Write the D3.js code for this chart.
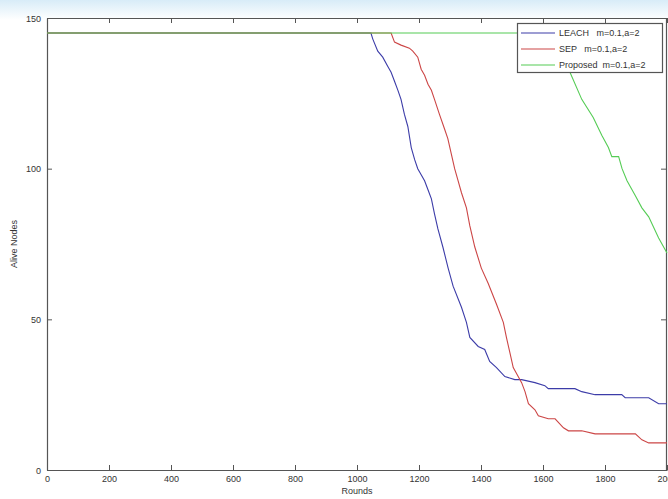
<!DOCTYPE html>
<html>
<head>
<meta charset="utf-8">
<script src="https://cdn.jsdelivr.net/npm/d3@7"></script>
<style>
  body { margin: 0; background: #fff; }
  svg { display: block; }
</style>
</head>
<body>
<div id="chart"></div>
<script>
// values
const xTicks = [0, 200, 400, 600, 800, 1000, 1200, 1400, 1600, 1800, 2000];
const yTicks = [0, 50, 100, 150];
const seriesNames = ["LEACH   m=0.1,a=2", "SEP   m=0.1,a=2", "Proposed  m=0.1,a=2"];

const leachRounds = [0, 1045, 1051, 1067, 1083, 1099, 1110, 1121, 1132, 1142, 1153, 1164, 1175, 1186, 1196, 1207, 1218, 1229, 1240, 1250, 1261, 1277, 1294, 1310, 1337, 1353, 1364, 1391, 1412, 1428, 1450, 1477, 1509, 1531, 1574, 1606, 1617, 1703, 1725, 1768, 1854, 1865, 1941, 1973, 2000];
const leachAlive  = [145, 145, 143, 139, 137, 134, 132, 129, 126, 123, 118, 114, 107, 103, 100, 98, 96, 93, 90, 85, 80, 74, 67, 61, 54, 49, 44, 41, 40, 36, 34, 31, 30, 30, 29, 28, 27, 27, 26, 25, 25, 24, 24, 22, 22];

const sepRounds = [0, 1110, 1121, 1142, 1169, 1180, 1196, 1207, 1218, 1229, 1240, 1250, 1266, 1283, 1293, 1304, 1315, 1326, 1337, 1353, 1364, 1380, 1401, 1423, 1450, 1472, 1482, 1493, 1504, 1520, 1531, 1542, 1553, 1574, 1585, 1617, 1639, 1666, 1682, 1725, 1768, 1833, 1898, 1919, 1941, 2000];
const sepAlive  = [145, 145, 142, 141, 140, 139, 137, 133, 131, 128, 126, 123, 118, 113, 110, 105, 100, 96, 92, 87, 81, 74, 67, 62, 55, 49, 44, 39, 34, 31, 29, 26, 22, 20, 18, 17, 17, 14, 13, 13, 12, 12, 12, 10, 9, 9];

const propRounds = [0, 1600, 1625, 1655, 1687, 1725, 1762, 1790, 1811, 1822, 1844, 1855, 1871, 1898, 1919, 1941, 1973, 2000];
const propAlive  = [145, 145, 142, 137, 132, 123, 117, 111, 107, 104, 104, 100, 96, 91, 87, 84, 77, 72];

const colors = ["#3c3ca8", "#cc4646", "#55cc55"];

const W = 668, H = 499;
const svg = d3.select("#chart").append("svg")
    .attr("width", W)
    .attr("height", H)
    .style("font-family", "'Liberation Sans', Arial, sans-serif");

// faint blue tint at the top of the picture
const defs = svg.append("defs");
const grad = defs.append("linearGradient").attr("id", "topTint")
    .attr("x1", 0).attr("y1", 0).attr("x2", 0).attr("y2", 1);
grad.append("stop").attr("offset", "0%").attr("stop-color", "#d8ecf8");
grad.append("stop").attr("offset", "100%").attr("stop-color", "#ffffff");
svg.append("rect").attr("x", 0).attr("y", 0).attr("width", W).attr("height", 20)
    .attr("fill", "url(#topTint)");

const x = d3.scaleLinear().domain([0, 2000]).range([47, 667]);
const y = d3.scaleLinear().domain([0, 150]).range([470, 18]);

// plot area
svg.append("rect")
    .attr("x", x(0)).attr("y", y(150))
    .attr("width", x(2000) - x(0)).attr("height", y(0) - y(150))
    .attr("fill", "#fff");

const axisColor = "#555";
const fmt = d3.format("d");

// bottom / top axes, ticks pointing in
const xb = svg.append("g")
    .attr("transform", `translate(0,${y(0)})`)
    .call(d3.axisBottom(x).tickValues(xTicks).tickFormat(fmt).tickSizeInner(-5).tickSizeOuter(0).tickPadding(6));
const xt = svg.append("g")
    .attr("transform", `translate(0,${y(150)})`)
    .call(d3.axisTop(x).tickValues(xTicks).tickSizeInner(-5).tickSizeOuter(0).tickFormat(""));
const yl = svg.append("g")
    .attr("transform", `translate(${x(0)},0)`)
    .call(d3.axisLeft(y).tickValues(yTicks).tickFormat(fmt).tickSizeInner(-5).tickSizeOuter(0).tickPadding(6));
const yr = svg.append("g")
    .attr("transform", `translate(${x(2000) - 1},0)`)
    .call(d3.axisRight(y).tickValues(yTicks).tickSizeInner(-5).tickSizeOuter(0).tickFormat(""));

[xb, xt, yl, yr].forEach(g => {
    g.select(".domain").attr("stroke", axisColor).attr("stroke-width", 1.2);
    g.selectAll(".tick line").attr("stroke", axisColor);
    g.selectAll(".tick text").attr("fill", "#333").style("font-size", "9px")
        .style("font-family", "'Liberation Sans Narrow', 'Liberation Sans', Arial, sans-serif");
});
yl.selectAll(".tick text").attr("dy", "0.35em");

// lines
const line = d3.line().x(d => x(d[0])).y(d => y(d[1]));
const series = [
    d3.zip(leachRounds, leachAlive),
    d3.zip(sepRounds, sepAlive),
    d3.zip(propRounds, propAlive)
];
series.forEach((s, i) => {
    svg.append("path")
        .datum(s)
        .attr("fill", "none")
        .attr("stroke", colors[i])
        .attr("stroke-width", 1.1)
        .attr("d", line);
});

// legend
const lg = svg.append("g");
lg.append("rect")
    .attr("x", 517.5).attr("y", 23.5)
    .attr("width", 145).attr("height", 49)
    .attr("fill", "#fff")
    .attr("stroke", axisColor)
    .attr("stroke-width", 1.2);
seriesNames.forEach((name, i) => {
    const ly = 33 + i * 16;
    lg.append("line")
        .attr("x1", 521).attr("x2", 555)
        .attr("y1", ly).attr("y2", ly)
        .attr("stroke", colors[i]).attr("stroke-width", 1.1);
    lg.append("text")
        .attr("x", 559).attr("y", ly)
        .attr("dy", "0.35em")
        .style("font-size", "9px")
        .style("white-space", "pre")
        .style("font-family", "'Liberation Sans Narrow', 'Liberation Sans', Arial, sans-serif")
        .attr("fill", "#333")
        .text(name);
});

// axis labels
svg.append("text")
    .attr("x", x(1000)).attr("y", 494)
    .attr("text-anchor", "middle")
    .style("font-size", "9px")
    .attr("fill", "#333")
    .text("Rounds");

svg.append("text")
    .attr("transform", `translate(17,${y(75)}) rotate(-90)`)
    .attr("text-anchor", "middle")
    .style("font-size", "9px")
    .attr("fill", "#333")
    .text("Alive Nodes");
</script>
</body>
</html>
